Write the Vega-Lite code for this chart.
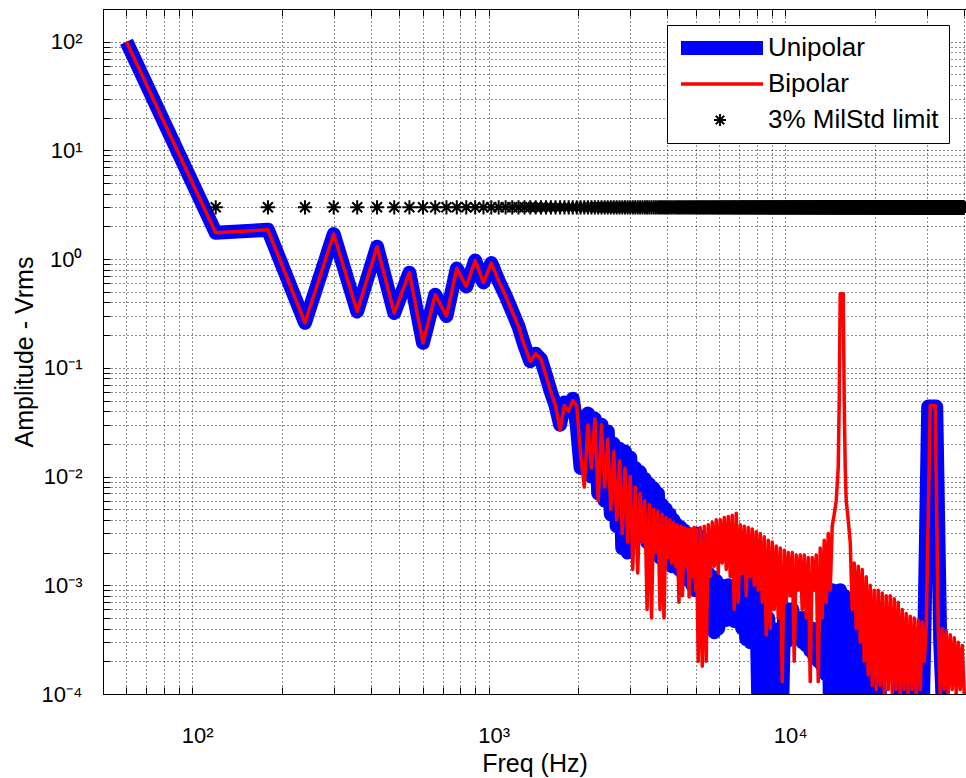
{
"$schema":"https://vega.github.io/schema/vega-lite/v6.json",
"width":863,"height":685,
"autosize":{"type":"none"},
"padding":{"left":103,"top":9,"right":0,"bottom":84},
"background":"white",
"config":{
"font":"Liberation Sans",
"view":{"stroke":"black","strokeWidth":1},
"axis":{"domainColor":"black","tickColor":"black","labelColor":"black","titleColor":"black","labelFont":"Liberation Sans","titleFont":"Liberation Sans","labelFontSize":22,"titleFontSize":25,"titleFontWeight":"normal","tickSize":-7,"gridColor":"black","gridDash":[1,3],"gridOpacity":0.9,"labelFlush":false,"labelOverlap":false,"labelBound":false},
"legend":{"orient":"none","legendX":564,"legendY":16,"title":null,"fillColor":"white","strokeColor":"black","padding":10,"symbolSize":400,"symbolOffset":30,"labelOffset":35,"labelFont":"Liberation Sans","labelFontSize":26,"labelColor":"black","labelLimit":400,"rowPadding":10,"symbolStrokeWidth":2,"symbolOpacity":1}
},
"datasets":{
"uni":[{"f":60,"v":100},{"f":120,"v":1.75},{"f":180,"v":1.86},{"f":240,"v":0.26},{"f":300,"v":1.7},{"f":360,"v":0.33},{"f":420,"v":1.3},{"f":480,"v":0.32},{"f":540,"v":0.75},{"f":600,"v":0.17},{"f":660,"v":0.47},{"f":720,"v":0.3},{"f":780,"v":0.82},{"f":840,"v":0.56},{"f":900,"v":0.97},{"f":960,"v":0.61},{"f":1020,"v":0.92},{"f":1080,"v":0.63},{"f":1140,"v":0.46},{"f":1200,"v":0.33},{"f":1260,"v":0.24},{"f":1320,"v":0.16},{"f":1380,"v":0.115},{"f":1440,"v":0.135},{"f":1500,"v":0.12},{"f":1560,"v":0.085},{"f":1620,"v":0.06},{"f":1680,"v":0.045},{"f":1740,"v":0.03},{"f":1800,"v":0.048},{"f":1860,"v":0.042},{"f":1920,"v":0.052},{"f":1980,"v":0.03},{"f":2040,"v":0.012},{"f":2100,"v":0.03},{"f":2160,"v":0.038},{"f":2220,"v":0.01},{"f":2280,"v":0.034},{"f":2340,"v":0.007},{"f":2400,"v":0.03},{"f":2460,"v":0.006},{"f":2520,"v":0.026},{"f":2580,"v":0.0045},{"f":2640,"v":0.02},{"f":2700,"v":0.0035},{"f":2760,"v":0.018},{"f":2820,"v":0.0022},{"f":2880,"v":0.017},{"f":2940,"v":0.002},{"f":3000,"v":0.015},{"f":3060,"v":0.0025},{"f":3120,"v":0.012},{"f":3180,"v":0.003},{"f":3240,"v":0.011},{"f":3300,"v":0.0028},{"f":3360,"v":0.0095},{"f":3420,"v":0.0025},{"f":3480,"v":0.0085},{"f":3540,"v":0.003},{"f":3600,"v":0.0078},{"f":3660,"v":0.0022},{"f":3720,"v":0.007},{"f":3780,"v":0.0018},{"f":3840,"v":0.0055},{"f":3900,"v":0.002},{"f":3960,"v":0.005},{"f":4020,"v":0.0017},{"f":4080,"v":0.0045},{"f":4140,"v":0.0015},{"f":4200,"v":0.004},{"f":4260,"v":0.0016},{"f":4320,"v":0.0036},{"f":4380,"v":0.0014},{"f":4440,"v":0.0034},{"f":4500,"v":0.0013},{"f":4560,"v":0.0032},{"f":4620,"v":0.0012},{"f":4680,"v":0.003},{"f":4740,"v":0.0011},{"f":4800,"v":0.0029},{"f":4860,"v":0.001},{"f":4920,"v":0.0026},{"f":4980,"v":0.0009},
{"f":5010,"v":0.003},{"f":5088,"v":0.001},{"f":5168,"v":0.0028},{"f":5249,"v":0.0009},{"f":5331,"v":0.0026},{"f":5414,"v":0.0008},{"f":5499,"v":0.0013},{"f":5585,"v":0.0004},{"f":5672,"v":0.0012},{"f":5761,"v":0.00037},{"f":5851,"v":0.0011},{"f":5943,"v":0.0004},{"f":6036,"v":0.001},{"f":6130,"v":0.0005},{"f":6226,"v":0.0009},{"f":6324,"v":0.00048},{"f":6423,"v":0.001},{"f":6523,"v":0.0005},{"f":6625,"v":0.0009},{"f":6729,"v":0.00047},{"f":6834,"v":0.0009},{"f":6941,"v":0.0005},{"f":7050,"v":0.001},{"f":7160,"v":0.0004},{"f":7272,"v":0.0011},{"f":7386,"v":0.00032},{"f":7502,"v":0.0011},{"f":7619,"v":0.0003},{"f":7738,"v":0.001},{"f":7859,"v":0.00035},{"f":7982,"v":0.0008},{"f":8107,"v":0.00009},{"f":8234,"v":0.0007},{"f":8363,"v":0.00006},{"f":8494,"v":0.0006},{"f":8627,"v":0.00005},{"f":8762,"v":0.0005},{"f":8899,"v":0.00005},{"f":9038,"v":0.0004},{"f":9180,"v":0.00005},{"f":9323,"v":0.0003},{"f":9469,"v":0.00005},{"f":9617,"v":0.0004},{"f":9768,"v":0.00008},{"f":9921,"v":0.0006},{"f":10076,"v":0.0003},{"f":10234,"v":0.0006},{"f":10394,"v":0.00045},{"f":10557,"v":0.0006},{"f":10722,"v":0.0004},{"f":10890,"v":0.0005},{"f":11060,"v":0.00035},{"f":11233,"v":0.0005},{"f":11409,"v":0.0003},{"f":11588,"v":0.0005},{"f":11769,"v":0.00028},{"f":11953,"v":0.0004},{"f":12140,"v":0.00025},{"f":12330,"v":0.0004},{"f":12523,"v":0.00022},{"f":12719,"v":0.00035},{"f":12918,"v":0.0002},{"f":13120,"v":0.0003},{"f":13326,"v":0.00018},{"f":13534,"v":0.0003},{"f":13746,"v":0.00015},{"f":13961,"v":0.0008},{"f":14180,"v":0.00005},{"f":14402,"v":0.0009},{"f":14627,"v":0.00005},{"f":14856,"v":0.0008},{"f":15088,"v":0.00005},{"f":15324,"v":0.0009},{"f":15564,"v":0.00005},{"f":15808,"v":0.0008},{"f":16055,"v":0.00005},{"f":16306,"v":0.0007},{"f":16562,"v":0.00005},{"f":16821,"v":0.0005},{"f":17084,"v":0.00005},{"f":17352,"v":0.0004},{"f":17623,"v":0.00005},{"f":17899,"v":0.0003},{"f":18179,"v":0.00005},{"f":18464,"v":0.00025},{"f":18753,"v":0.00005},{"f":19046,"v":0.0002},{"f":19344,"v":0.00005},{"f":19647,"v":0.00004},{"f":20584,"v":0.0002},{"f":21234,"v":0.00004},{"f":22246,"v":0.00004},{"f":23308,"v":0.00004},{"f":24801,"v":0.00017},{"f":25584,"v":0.00004},{"f":26391,"v":0.00004},{"f":27224,"v":0.0002},{"f":28083,"v":0.00004},{"f":28969,"v":0.00004},{"f":29422,"v":0.0003},{"f":30350,"v":0.044},{"f":32296,"v":0.044},{"f":33315,"v":0.0003},{"f":34366,"v":0.00004},{"f":37141,"v":0.00004},{"f":40141,"v":0.00004}],
"bip":[{"f":60,"v":100},{"f":120,"v":1.75},{"f":180,"v":1.86},{"f":240,"v":0.26},{"f":300,"v":1.7},{"f":360,"v":0.33},{"f":420,"v":1.3},{"f":480,"v":0.32},{"f":540,"v":0.75},{"f":600,"v":0.17},{"f":660,"v":0.47},{"f":720,"v":0.3},{"f":780,"v":0.82},{"f":840,"v":0.56},{"f":900,"v":0.97},{"f":960,"v":0.61},{"f":1020,"v":0.92},{"f":1080,"v":0.63},{"f":1140,"v":0.46},{"f":1200,"v":0.33},{"f":1260,"v":0.24},{"f":1320,"v":0.16},{"f":1380,"v":0.115},{"f":1440,"v":0.135},{"f":1500,"v":0.12},{"f":1560,"v":0.085},{"f":1620,"v":0.06},{"f":1680,"v":0.045},{"f":1740,"v":0.027},{"f":1800,"v":0.045},{"f":1860,"v":0.04},{"f":1920,"v":0.05},{"f":1980,"v":0.045},{"f":2040,"v":0.016},{"f":2100,"v":0.008},{"f":2160,"v":0.03},{"f":2220,"v":0.012},{"f":2280,"v":0.034},{"f":2340,"v":0.006},{"f":2400,"v":0.03},{"f":2460,"v":0.008},{"f":2520,"v":0.022},{"f":2580,"v":0.005},{"f":2640,"v":0.017},{"f":2700,"v":0.004},{"f":2760,"v":0.014},{"f":2820,"v":0.003},{"f":2880,"v":0.012},{"f":2940,"v":0.0025},{"f":3000,"v":0.01},{"f":3060,"v":0.0014},{"f":3120,"v":0.008},{"f":3180,"v":0.0013},{"f":3240,"v":0.007},{"f":3300,"v":0.0025},{"f":3360,"v":0.006},{"f":3420,"v":0.0006},{"f":3480,"v":0.0055},{"f":3540,"v":0.0005},{"f":3600,"v":0.005},{"f":3660,"v":0.002},{"f":3720,"v":0.0048},{"f":3780,"v":0.0006},{"f":3840,"v":0.0045},{"f":3900,"v":0.0005},{"f":3960,"v":0.0042},{"f":4020,"v":0.0018},{"f":4080,"v":0.004},{"f":4140,"v":0.0016},{"f":4200,"v":0.0038},{"f":4260,"v":0.0015},{"f":4320,"v":0.0036},{"f":4380,"v":0.0007},{"f":4440,"v":0.0035},{"f":4500,"v":0.0008},{"f":4560,"v":0.0034},{"f":4620,"v":0.0015},{"f":4680,"v":0.0033},{"f":4740,"v":0.00078},{"f":4800,"v":0.0033},{"f":4860,"v":0.0012},{"f":4920,"v":0.0034},{"f":4980,"v":0.0009},
{"f":5010,"v":0.0033},{"f":5088,"v":0.0002},{"f":5168,"v":0.0034},{"f":5249,"v":0.00018},{"f":5331,"v":0.0035},{"f":5414,"v":0.0002},{"f":5499,"v":0.0036},{"f":5585,"v":0.0012},{"f":5672,"v":0.0038},{"f":5761,"v":0.0015},{"f":5851,"v":0.004},{"f":5943,"v":0.0013},{"f":6036,"v":0.004},{"f":6130,"v":0.0016},{"f":6226,"v":0.0042},{"f":6324,"v":0.0014},{"f":6423,"v":0.0043},{"f":6523,"v":0.0012},{"f":6625,"v":0.0044},{"f":6729,"v":0.0006},{"f":6834,"v":0.0046},{"f":6941,"v":0.0007},{"f":7050,"v":0.0036},{"f":7160,"v":0.0013},{"f":7272,"v":0.0035},{"f":7386,"v":0.0008},{"f":7502,"v":0.0034},{"f":7619,"v":0.0012},{"f":7738,"v":0.0033},{"f":7859,"v":0.001},{"f":7982,"v":0.0031},{"f":8107,"v":0.0009},{"f":8234,"v":0.003},{"f":8363,"v":0.0007},{"f":8494,"v":0.0028},{"f":8627,"v":0.00035},{"f":8762,"v":0.0026},{"f":8899,"v":0.0004},{"f":9038,"v":0.0025},{"f":9180,"v":0.0006},{"f":9323,"v":0.0023},{"f":9469,"v":0.0005},{"f":9617,"v":0.0022},{"f":9768,"v":0.00013},{"f":9921,"v":0.0021},{"f":10076,"v":0.0007},{"f":10234,"v":0.002},{"f":10394,"v":0.0008},{"f":10557,"v":0.002},{"f":10722,"v":0.0002},{"f":10890,"v":0.0019},{"f":11060,"v":0.0009},{"f":11233,"v":0.0019},{"f":11409,"v":0.0006},{"f":11588,"v":0.0019},{"f":11769,"v":0.0005},{"f":11953,"v":0.0018},{"f":12140,"v":0.00013},{"f":12330,"v":0.0018},{"f":12523,"v":0.0009},{"f":12719,"v":0.0019},{"f":12918,"v":0.00013},{"f":13120,"v":0.0022},{"f":13326,"v":0.0005},{"f":13534,"v":0.0026},{"f":13746,"v":0.0007},{"f":13961,"v":0.003},{"f":14180,"v":0.0009},{"f":14402,"v":0.0035},{"f":14627,"v":0.0045},{"f":14856,"v":0.006},{"f":15088,"v":0.012},{"f":15206,"v":0.05},{"f":15324,"v":0.48},{"f":15686,"v":0.48},{"f":15808,"v":0.05},{"f":15931,"v":0.012},{"f":16055,"v":0.006},{"f":16306,"v":0.004},{"f":16562,"v":0.0025},{"f":16821,"v":0.0006},{"f":17084,"v":0.0016},{"f":17352,"v":0.0004},{"f":17623,"v":0.0015},{"f":17899,"v":0.0003},{"f":18179,"v":0.0014},{"f":18464,"v":0.0002},{"f":18753,"v":0.0012},{"f":19046,"v":0.00015},{"f":19344,"v":0.001},{"f":19647,"v":0.00012},{"f":19955,"v":0.0009},{"f":20267,"v":0.00011},{"f":20584,"v":0.0009},{"f":20906,"v":0.00012},{"f":21234,"v":0.00085},{"f":21566,"v":0.0001},{"f":21904,"v":0.0008},{"f":22246,"v":0.00011},{"f":22595,"v":0.0008},{"f":22948,"v":0.0001},{"f":23308,"v":0.00075},{"f":23672,"v":0.00011},{"f":24043,"v":0.0007},{"f":24419,"v":0.0001},{"f":24801,"v":0.0006},{"f":25190,"v":0.00011},{"f":25584,"v":0.00055},{"f":25984,"v":0.0001},{"f":26391,"v":0.00052},{"f":26804,"v":0.00011},{"f":27224,"v":0.0005},{"f":27650,"v":0.0001},{"f":28083,"v":0.00048},{"f":28522,"v":0.00011},{"f":28969,"v":0.00046},{"f":29422,"v":0.0002},{"f":29883,"v":0.0004},{"f":30825,"v":0.045},{"f":32047,"v":0.045},{"f":32801,"v":0.0004},{"f":33315,"v":0.0001},{"f":33836,"v":0.0004},{"f":34366,"v":0.00011},{"f":34904,"v":0.00038},{"f":35450,"v":0.0001},{"f":36005,"v":0.00035},{"f":36569,"v":0.00011},{"f":37141,"v":0.00033},{"f":37723,"v":0.0001},{"f":38313,"v":0.0003},{"f":38913,"v":0.00011},{"f":39522,"v":0.00028},{"f":40141,"v":0.0001}],
"lim":[{"f":120,"v":3},{"f":180,"v":3},{"f":240,"v":3},{"f":300,"v":3},{"f":360,"v":3},{"f":420,"v":3},{"f":480,"v":3},{"f":540,"v":3},{"f":600,"v":3},
{"f":660,"v":3},{"f":720,"v":3},{"f":780,"v":3},{"f":840,"v":3},{"f":900,"v":3},{"f":960,"v":3},{"f":1020,"v":3},{"f":1080,"v":3},{"f":1140,"v":3},{"f":1200,"v":3},
{"f":1260,"v":3},{"f":1320,"v":3},{"f":1380,"v":3},{"f":1440,"v":3},{"f":1500,"v":3},{"f":1560,"v":3},{"f":1620,"v":3},{"f":1680,"v":3},{"f":1740,"v":3},{"f":1800,"v":3},
{"f":1860,"v":3},{"f":1920,"v":3},{"f":1980,"v":3},{"f":2040,"v":3},{"f":2100,"v":3},{"f":2160,"v":3},{"f":2220,"v":3},{"f":2280,"v":3},{"f":2340,"v":3},{"f":2400,"v":3},
{"f":2460,"v":3},{"f":2520,"v":3},{"f":2580,"v":3},{"f":2640,"v":3},{"f":2700,"v":3},{"f":2760,"v":3},{"f":2820,"v":3},{"f":2880,"v":3},{"f":2940,"v":3},{"f":3000,"v":3},
{"f":3060,"v":3},{"f":3120,"v":3},{"f":3180,"v":3},{"f":3240,"v":3},{"f":3300,"v":3},{"f":3360,"v":3},{"f":3420,"v":3},{"f":3480,"v":3},{"f":3540,"v":3},{"f":3600,"v":3},
{"f":3660,"v":3},{"f":3720,"v":3},{"f":3780,"v":3},{"f":3840,"v":3},{"f":3900,"v":3},{"f":3960,"v":3},{"f":4020,"v":3},{"f":4080,"v":3},{"f":4140,"v":3},{"f":4200,"v":3},
{"f":4260,"v":3},{"f":4320,"v":3},{"f":4380,"v":3},{"f":4440,"v":3},{"f":4500,"v":3},{"f":4560,"v":3},{"f":4620,"v":3},{"f":4680,"v":3},{"f":4740,"v":3},{"f":4800,"v":3},
{"f":4860,"v":3},{"f":4920,"v":3},{"f":4980,"v":3},{"f":5040,"v":3},{"f":5100,"v":3},{"f":5160,"v":3},{"f":5220,"v":3},{"f":5280,"v":3},{"f":5340,"v":3},{"f":5400,"v":3},
{"f":5460,"v":3},{"f":5520,"v":3},{"f":5580,"v":3},{"f":5640,"v":3},{"f":5700,"v":3},{"f":5760,"v":3},{"f":5820,"v":3},{"f":5880,"v":3},{"f":5940,"v":3},{"f":6000,"v":3},
{"f":6060,"v":3},{"f":6120,"v":3},{"f":6180,"v":3},{"f":6240,"v":3},{"f":6300,"v":3},{"f":6360,"v":3},{"f":6420,"v":3},{"f":6480,"v":3},{"f":6540,"v":3},{"f":6600,"v":3},
{"f":6660,"v":3},{"f":6720,"v":3},{"f":6780,"v":3},{"f":6840,"v":3},{"f":6900,"v":3},{"f":6960,"v":3},{"f":7020,"v":3},{"f":7080,"v":3},{"f":7140,"v":3},{"f":7200,"v":3},
{"f":7260,"v":3},{"f":7320,"v":3},{"f":7380,"v":3},{"f":7440,"v":3},{"f":7500,"v":3},{"f":7560,"v":3},{"f":7620,"v":3},{"f":7680,"v":3},{"f":7740,"v":3},{"f":7800,"v":3},
{"f":7860,"v":3},{"f":7920,"v":3},{"f":7980,"v":3},{"f":8040,"v":3},{"f":8100,"v":3},{"f":8160,"v":3},{"f":8220,"v":3},{"f":8280,"v":3},{"f":8340,"v":3},{"f":8400,"v":3},
{"f":8460,"v":3},{"f":8520,"v":3},{"f":8580,"v":3},{"f":8640,"v":3},{"f":8700,"v":3},{"f":8760,"v":3},{"f":8820,"v":3},{"f":8880,"v":3},{"f":8940,"v":3},{"f":9000,"v":3},
{"f":9060,"v":3},{"f":9120,"v":3},{"f":9180,"v":3},{"f":9240,"v":3},{"f":9300,"v":3},{"f":9360,"v":3},{"f":9420,"v":3},{"f":9480,"v":3},{"f":9540,"v":3},{"f":9600,"v":3},
{"f":9660,"v":3},{"f":9720,"v":3},{"f":9780,"v":3},{"f":9840,"v":3},{"f":9900,"v":3},{"f":9960,"v":3},{"f":10020,"v":3},{"f":10080,"v":3},{"f":10140,"v":3},{"f":10200,"v":3},
{"f":10260,"v":3},{"f":10320,"v":3},{"f":10380,"v":3},{"f":10440,"v":3},{"f":10500,"v":3},{"f":10560,"v":3},{"f":10620,"v":3},{"f":10680,"v":3},{"f":10740,"v":3},{"f":10800,"v":3},
{"f":10860,"v":3},{"f":10920,"v":3},{"f":10980,"v":3},{"f":11040,"v":3},{"f":11100,"v":3},{"f":11160,"v":3},{"f":11220,"v":3},{"f":11280,"v":3},{"f":11340,"v":3},{"f":11400,"v":3},
{"f":11460,"v":3},{"f":11520,"v":3},{"f":11580,"v":3},{"f":11640,"v":3},{"f":11700,"v":3},{"f":11760,"v":3},{"f":11820,"v":3},{"f":11880,"v":3},{"f":11940,"v":3},{"f":12000,"v":3},
{"f":12060,"v":3},{"f":12120,"v":3},{"f":12180,"v":3},{"f":12240,"v":3},{"f":12300,"v":3},{"f":12360,"v":3},{"f":12420,"v":3},{"f":12480,"v":3},{"f":12540,"v":3},{"f":12600,"v":3},
{"f":12660,"v":3},{"f":12720,"v":3},{"f":12780,"v":3},{"f":12840,"v":3},{"f":12900,"v":3},{"f":12960,"v":3},{"f":13020,"v":3},{"f":13080,"v":3},{"f":13140,"v":3},{"f":13200,"v":3},
{"f":13260,"v":3},{"f":13320,"v":3},{"f":13380,"v":3},{"f":13440,"v":3},{"f":13500,"v":3},{"f":13560,"v":3},{"f":13620,"v":3},{"f":13680,"v":3},{"f":13740,"v":3},{"f":13800,"v":3},
{"f":13860,"v":3},{"f":13920,"v":3},{"f":13980,"v":3},{"f":14040,"v":3},{"f":14100,"v":3},{"f":14160,"v":3},{"f":14220,"v":3},{"f":14280,"v":3},{"f":14340,"v":3},{"f":14400,"v":3},
{"f":14460,"v":3},{"f":14520,"v":3},{"f":14580,"v":3},{"f":14640,"v":3},{"f":14700,"v":3},{"f":14760,"v":3},{"f":14820,"v":3},{"f":14880,"v":3},{"f":14940,"v":3},{"f":15000,"v":3},
{"f":15060,"v":3},{"f":15120,"v":3},{"f":15180,"v":3},{"f":15240,"v":3},{"f":15300,"v":3},{"f":15360,"v":3},{"f":15420,"v":3},{"f":15480,"v":3},{"f":15540,"v":3},{"f":15600,"v":3},
{"f":15660,"v":3},{"f":15720,"v":3},{"f":15780,"v":3},{"f":15840,"v":3},{"f":15900,"v":3},{"f":15960,"v":3},{"f":16020,"v":3},{"f":16080,"v":3},{"f":16140,"v":3},{"f":16200,"v":3},
{"f":16260,"v":3},{"f":16320,"v":3},{"f":16380,"v":3},{"f":16440,"v":3},{"f":16500,"v":3},{"f":16560,"v":3},{"f":16620,"v":3},{"f":16680,"v":3},{"f":16740,"v":3},{"f":16800,"v":3},
{"f":16860,"v":3},{"f":16920,"v":3},{"f":16980,"v":3},{"f":17040,"v":3},{"f":17100,"v":3},{"f":17160,"v":3},{"f":17220,"v":3},{"f":17280,"v":3},{"f":17340,"v":3},{"f":17400,"v":3},
{"f":17460,"v":3},{"f":17520,"v":3},{"f":17580,"v":3},{"f":17640,"v":3},{"f":17700,"v":3},{"f":17760,"v":3},{"f":17820,"v":3},{"f":17880,"v":3},{"f":17940,"v":3},{"f":18000,"v":3},
{"f":18060,"v":3},{"f":18120,"v":3},{"f":18180,"v":3},{"f":18240,"v":3},{"f":18300,"v":3},{"f":18360,"v":3},{"f":18420,"v":3},{"f":18480,"v":3},{"f":18540,"v":3},{"f":18600,"v":3},
{"f":18660,"v":3},{"f":18720,"v":3},{"f":18780,"v":3},{"f":18840,"v":3},{"f":18900,"v":3},{"f":18960,"v":3},{"f":19020,"v":3},{"f":19080,"v":3},{"f":19140,"v":3},{"f":19200,"v":3},
{"f":19260,"v":3},{"f":19320,"v":3},{"f":19380,"v":3},{"f":19440,"v":3},{"f":19500,"v":3},{"f":19560,"v":3},{"f":19620,"v":3},{"f":19680,"v":3},{"f":19740,"v":3},{"f":19800,"v":3},
{"f":19860,"v":3},{"f":19920,"v":3},{"f":19980,"v":3},{"f":20040,"v":3},{"f":20100,"v":3},{"f":20160,"v":3},{"f":20220,"v":3},{"f":20280,"v":3},{"f":20340,"v":3},{"f":20400,"v":3},
{"f":20460,"v":3},{"f":20520,"v":3},{"f":20580,"v":3},{"f":20640,"v":3},{"f":20700,"v":3},{"f":20760,"v":3},{"f":20820,"v":3},{"f":20880,"v":3},{"f":20940,"v":3},{"f":21000,"v":3},
{"f":21060,"v":3},{"f":21120,"v":3},{"f":21180,"v":3},{"f":21240,"v":3},{"f":21300,"v":3},{"f":21360,"v":3},{"f":21420,"v":3},{"f":21480,"v":3},{"f":21540,"v":3},{"f":21600,"v":3},
{"f":21660,"v":3},{"f":21720,"v":3},{"f":21780,"v":3},{"f":21840,"v":3},{"f":21900,"v":3},{"f":21960,"v":3},{"f":22020,"v":3},{"f":22080,"v":3},{"f":22140,"v":3},{"f":22200,"v":3},
{"f":22260,"v":3},{"f":22320,"v":3},{"f":22380,"v":3},{"f":22440,"v":3},{"f":22500,"v":3},{"f":22560,"v":3},{"f":22620,"v":3},{"f":22680,"v":3},{"f":22740,"v":3},{"f":22800,"v":3},
{"f":22860,"v":3},{"f":22920,"v":3},{"f":22980,"v":3},{"f":23040,"v":3},{"f":23100,"v":3},{"f":23160,"v":3},{"f":23220,"v":3},{"f":23280,"v":3},{"f":23340,"v":3},{"f":23400,"v":3},
{"f":23460,"v":3},{"f":23520,"v":3},{"f":23580,"v":3},{"f":23640,"v":3},{"f":23700,"v":3},{"f":23760,"v":3},{"f":23820,"v":3},{"f":23880,"v":3},{"f":23940,"v":3},{"f":24000,"v":3},
{"f":24060,"v":3},{"f":24120,"v":3},{"f":24180,"v":3},{"f":24240,"v":3},{"f":24300,"v":3},{"f":24360,"v":3},{"f":24420,"v":3},{"f":24480,"v":3},{"f":24540,"v":3},{"f":24600,"v":3},
{"f":24660,"v":3},{"f":24720,"v":3},{"f":24780,"v":3},{"f":24840,"v":3},{"f":24900,"v":3},{"f":24960,"v":3},{"f":25020,"v":3},{"f":25080,"v":3},{"f":25140,"v":3},{"f":25200,"v":3},
{"f":25260,"v":3},{"f":25320,"v":3},{"f":25380,"v":3},{"f":25440,"v":3},{"f":25500,"v":3},{"f":25560,"v":3},{"f":25620,"v":3},{"f":25680,"v":3},{"f":25740,"v":3},{"f":25800,"v":3},
{"f":25860,"v":3},{"f":25920,"v":3},{"f":25980,"v":3},{"f":26040,"v":3},{"f":26100,"v":3},{"f":26160,"v":3},{"f":26220,"v":3},{"f":26280,"v":3},{"f":26340,"v":3},{"f":26400,"v":3},
{"f":26460,"v":3},{"f":26520,"v":3},{"f":26580,"v":3},{"f":26640,"v":3},{"f":26700,"v":3},{"f":26760,"v":3},{"f":26820,"v":3},{"f":26880,"v":3},{"f":26940,"v":3},{"f":27000,"v":3},
{"f":27060,"v":3},{"f":27120,"v":3},{"f":27180,"v":3},{"f":27240,"v":3},{"f":27300,"v":3},{"f":27360,"v":3},{"f":27420,"v":3},{"f":27480,"v":3},{"f":27540,"v":3},{"f":27600,"v":3},
{"f":27660,"v":3},{"f":27720,"v":3},{"f":27780,"v":3},{"f":27840,"v":3},{"f":27900,"v":3},{"f":27960,"v":3},{"f":28020,"v":3},{"f":28080,"v":3},{"f":28140,"v":3},{"f":28200,"v":3},
{"f":28260,"v":3},{"f":28320,"v":3},{"f":28380,"v":3},{"f":28440,"v":3},{"f":28500,"v":3},{"f":28560,"v":3},{"f":28620,"v":3},{"f":28680,"v":3},{"f":28740,"v":3},{"f":28800,"v":3},
{"f":28860,"v":3},{"f":28920,"v":3},{"f":28980,"v":3},{"f":29040,"v":3},{"f":29100,"v":3},{"f":29160,"v":3},{"f":29220,"v":3},{"f":29280,"v":3},{"f":29340,"v":3},{"f":29400,"v":3},
{"f":29460,"v":3},{"f":29520,"v":3},{"f":29580,"v":3},{"f":29640,"v":3},{"f":29700,"v":3},{"f":29760,"v":3},{"f":29820,"v":3},{"f":29880,"v":3},{"f":29940,"v":3},{"f":30000,"v":3},
{"f":30060,"v":3},{"f":30120,"v":3},{"f":30180,"v":3},{"f":30240,"v":3},{"f":30300,"v":3},{"f":30360,"v":3},{"f":30420,"v":3},{"f":30480,"v":3},{"f":30540,"v":3},{"f":30600,"v":3},
{"f":30660,"v":3},{"f":30720,"v":3},{"f":30780,"v":3},{"f":30840,"v":3},{"f":30900,"v":3},{"f":30960,"v":3},{"f":31020,"v":3},{"f":31080,"v":3},{"f":31140,"v":3},{"f":31200,"v":3},
{"f":31260,"v":3},{"f":31320,"v":3},{"f":31380,"v":3},{"f":31440,"v":3},{"f":31500,"v":3},{"f":31560,"v":3},{"f":31620,"v":3},{"f":31680,"v":3},{"f":31740,"v":3},{"f":31800,"v":3},
{"f":31860,"v":3},{"f":31920,"v":3},{"f":31980,"v":3},{"f":32040,"v":3},{"f":32100,"v":3},{"f":32160,"v":3},{"f":32220,"v":3},{"f":32280,"v":3},{"f":32340,"v":3},{"f":32400,"v":3},
{"f":32460,"v":3},{"f":32520,"v":3},{"f":32580,"v":3},{"f":32640,"v":3},{"f":32700,"v":3},{"f":32760,"v":3},{"f":32820,"v":3},{"f":32880,"v":3},{"f":32940,"v":3},{"f":33000,"v":3},
{"f":33060,"v":3},{"f":33120,"v":3},{"f":33180,"v":3},{"f":33240,"v":3},{"f":33300,"v":3},{"f":33360,"v":3},{"f":33420,"v":3},{"f":33480,"v":3},{"f":33540,"v":3},{"f":33600,"v":3},
{"f":33660,"v":3},{"f":33720,"v":3},{"f":33780,"v":3},{"f":33840,"v":3},{"f":33900,"v":3},{"f":33960,"v":3},{"f":34020,"v":3},{"f":34080,"v":3},{"f":34140,"v":3},{"f":34200,"v":3},
{"f":34260,"v":3},{"f":34320,"v":3},{"f":34380,"v":3},{"f":34440,"v":3},{"f":34500,"v":3},{"f":34560,"v":3},{"f":34620,"v":3},{"f":34680,"v":3},{"f":34740,"v":3},{"f":34800,"v":3},
{"f":34860,"v":3},{"f":34920,"v":3},{"f":34980,"v":3},{"f":35040,"v":3},{"f":35100,"v":3},{"f":35160,"v":3},{"f":35220,"v":3},{"f":35280,"v":3},{"f":35340,"v":3},{"f":35400,"v":3},
{"f":35460,"v":3},{"f":35520,"v":3},{"f":35580,"v":3},{"f":35640,"v":3},{"f":35700,"v":3},{"f":35760,"v":3},{"f":35820,"v":3},{"f":35880,"v":3},{"f":35940,"v":3},{"f":36000,"v":3},
{"f":36060,"v":3},{"f":36120,"v":3},{"f":36180,"v":3},{"f":36240,"v":3},{"f":36300,"v":3},{"f":36360,"v":3},{"f":36420,"v":3},{"f":36480,"v":3},{"f":36540,"v":3},{"f":36600,"v":3},
{"f":36660,"v":3},{"f":36720,"v":3},{"f":36780,"v":3},{"f":36840,"v":3},{"f":36900,"v":3},{"f":36960,"v":3},{"f":37020,"v":3},{"f":37080,"v":3},{"f":37140,"v":3},{"f":37200,"v":3},
{"f":37260,"v":3},{"f":37320,"v":3},{"f":37380,"v":3},{"f":37440,"v":3},{"f":37500,"v":3},{"f":37560,"v":3},{"f":37620,"v":3},{"f":37680,"v":3},{"f":37740,"v":3},{"f":37800,"v":3},
{"f":37860,"v":3},{"f":37920,"v":3},{"f":37980,"v":3},{"f":38040,"v":3},{"f":38100,"v":3},{"f":38160,"v":3},{"f":38220,"v":3},{"f":38280,"v":3},{"f":38340,"v":3},{"f":38400,"v":3},
{"f":38460,"v":3},{"f":38520,"v":3},{"f":38580,"v":3},{"f":38640,"v":3},{"f":38700,"v":3},{"f":38760,"v":3},{"f":38820,"v":3},{"f":38880,"v":3},{"f":38940,"v":3},{"f":39000,"v":3},
{"f":39060,"v":3},{"f":39120,"v":3},{"f":39180,"v":3},{"f":39240,"v":3},{"f":39300,"v":3},{"f":39360,"v":3},{"f":39420,"v":3},{"f":39480,"v":3},{"f":39540,"v":3},{"f":39600,"v":3},
{"f":39660,"v":3},{"f":39720,"v":3},{"f":39780,"v":3},{"f":39840,"v":3},{"f":39900,"v":3},{"f":39960,"v":3}]
},
"layer":[
{"data":{"name":"uni"},
"mark":{"type":"line","color":"#0000ff","strokeWidth":14,"strokeJoin":"round","clip":true},
"encoding":{
"x":{"field":"f","type":"quantitative","scale":{"type":"log","domain":[50,40700],"nice":false},
"axis":{"orient":"bottom","values":[50,60,70,80,90,100,200,300,400,500,600,700,800,900,1000,2000,3000,4000,5000,6000,7000,8000,9000,10000,20000,30000,40000],
"labelExpr":"datum.value == 100 ? '10²' : datum.value == 1000 ? '10³' : datum.value == 10000 ? '10⁴' : ''","labelPadding":38,"labelOffset":5,"grid":true,"title":"Freq (Hz)","titlePadding":5}},
"y":{"field":"v","type":"quantitative","scale":{"type":"log","domain":[0.0001,200],"nice":false},
"axis":{"orient":"left","values":[0.0001,0.0002,0.0003,0.0004,0.0005,0.0006,0.0007,0.0008,0.0009,0.001,0.002,0.003,0.004,0.005,0.006,0.007,0.008,0.009,0.01,0.02,0.03,0.04,0.05,0.06,0.07,0.08,0.09,0.1,0.2,0.3,0.4,0.5,0.6,0.7,0.8,0.9,1,2,3,4,5,6,7,8,9,10,20,30,40,50,60,70,80,90,100,200],
"labelExpr":"datum.value == 100 ? '10²' : datum.value == 10 ? '10¹' : datum.value == 1 ? '10⁰' : datum.value == 0.1 ? '10⁻¹' : datum.value == 0.01 ? '10⁻²' : datum.value == 0.001 ? '10⁻³' : datum.value == 0.0001 ? '10⁻⁴' : ''","labelPadding":28,"grid":true,"title":"Amplitude - Vrms","titlePadding":4}}}},
{"data":{"name":"bip"},
"mark":{"type":"line","color":"#ff0000","strokeWidth":3.5,"strokeJoin":"round","clip":true},
"encoding":{
"x":{"field":"f","type":"quantitative","scale":{"type":"log","domain":[50,40700],"nice":false},
"axis":{"orient":"top","values":[50,60,70,80,90,100,200,300,400,500,600,700,800,900,1000,2000,3000,4000,5000,6000,7000,8000,9000,10000,20000,30000,40000],"labels":false,"grid":false,"domain":false,"title":null}},
"y":{"field":"v","type":"quantitative","scale":{"type":"log","domain":[0.0001,200],"nice":false},"axis":null}}},
{"data":{"name":"lim"},
"mark":{"type":"point","filled":false,"strokeWidth":2,"size":560,"opacity":1,"clip":true},
"encoding":{
"x":{"field":"f","type":"quantitative","scale":{"type":"log","domain":[50,40700],"nice":false},"axis":null},
"y":{"field":"v","type":"quantitative","scale":{"type":"log","domain":[0.0001,200],"nice":false},"axis":null},
"color":{"datum":"L","type":"nominal","scale":{"domain":["U","B","L"],"range":["#0000ff","#ff0000","#000000"]},
"legend":{"labelExpr":"datum.value == 'U' ? 'Unipolar' : datum.value == 'B' ? 'Bipolar' : '3% MilStd limit'"}},
"shape":{"datum":"L","type":"nominal","scale":{"domain":["U","B","L"],"range":["M-3.9,-0.6H4.3M-3.9,-0.4H4.3M-3.9,-0.2H4.3M-3.9,0H4.3M-3.9,0.2H4.3M-3.9,0.4H4.3M-3.9,0.6H4.3","M-3.9,-0.08H4.3M-3.9,0.08H4.3","M-0.6,0H0.6M0,-0.6V0.6M-0.42,-0.42L0.42,0.42M-0.42,0.42L0.42,-0.42"]},
"legend":{"labelExpr":"datum.value == 'U' ? 'Unipolar' : datum.value == 'B' ? 'Bipolar' : '3% MilStd limit'"}}}}
],
"resolve":{"axis":{"x":"independent","y":"independent"}}
}
